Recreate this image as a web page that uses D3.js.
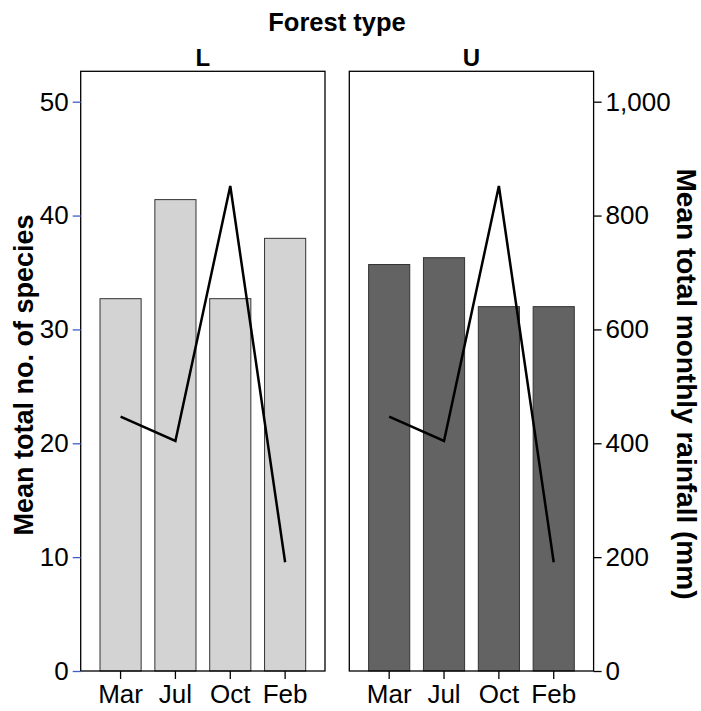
<!DOCTYPE html>
<html>
<head>
<meta charset="utf-8">
<script src="https://cdn.jsdelivr.net/npm/d3@7"></script>
<style>
  html, body { margin: 0; padding: 0; background: #fff; }
  svg { display: block; font-family: "Liberation Sans", Arial, sans-serif; }
</style>
</head>
<body>
<div id="chart"></div>
<script>
// Values.
const months = ['Mar', 'Jul', 'Oct', 'Feb'];
const forestTypes = ['L', 'U'];
const speciesL = [32.7, 41.4, 32.7, 38.0];
const speciesU = [35.7, 36.3, 32.0, 32.0];
const rainfall = [447, 404, 852, 191];
const speciesTicks = [0, 10, 20, 30, 40, 50];
const rainTicks = [0, 200, 400, 600, 800, 1000];

(function(){
  const width = 701, height = 711;
  const svg = d3.select('#chart').append('svg')
    .attr('width', width).attr('height', height);

  // panel geometry
  const top = 71.3, bottom = 671;
  const panelW = 244.3, gap = 24.3, left0 = 80.7;
  const panelX = forestTypes.map((d, i) => left0 + i * (panelW + gap));
  const fontFam = '"Liberation Sans", Arial, sans-serif';

  const y = d3.scaleLinear().domain([0, 52.67]).range([bottom, top]);
  // rainfall shares the same pixels: 1000 mm sits level with 50 species
  const yRain = d3.scaleLinear().domain([0, 52.67 * 20]).range([bottom, top]);

  const x = d3.scaleBand().domain(months).range([0, panelW])
    .paddingInner(0.25).paddingOuter(0.352);

  const fills = {L: '#d3d3d3', U: '#636363'};
  const bars = {L: speciesL, U: speciesU};

  forestTypes.forEach((ft, i) => {
    const g = svg.append('g').attr('transform', `translate(${panelX[i]},0)`);
    const rows = months.map((m, j) => ({month: m, value: bars[ft][j], rain: rainfall[j]}));

    g.selectAll('rect.bar').data(rows).join('rect')
      .attr('class', 'bar')
      .attr('x', d => x(d.month))
      .attr('y', d => y(d.value))
      .attr('width', x.bandwidth())
      .attr('height', d => bottom - y(d.value))
      .attr('fill', fills[ft])
      .attr('stroke', '#333')
      .attr('stroke-width', 1);

    const line = d3.line()
      .x(d => x(d.month) + x.bandwidth() / 2)
      .y(d => yRain(d.rain));
    g.append('path').datum(rows)
      .attr('d', line)
      .attr('fill', 'none')
      .attr('stroke', '#000')
      .attr('stroke-width', 2.5)
      .attr('stroke-linejoin', 'miter');

    // panel frame
    g.append('rect')
      .attr('x', 0).attr('y', top)
      .attr('width', panelW).attr('height', bottom - top)
      .attr('fill', 'none').attr('stroke', '#000').attr('stroke-width', 1.3);

    // x axis
    const xAxis = g.append('g').attr('transform', `translate(0,${bottom})`)
      .call(d3.axisBottom(x).tickSize(8).tickPadding(6));
    xAxis.select('.domain').remove();
    xAxis.selectAll('line').attr('stroke', '#000').attr('stroke-width', 1.3);
    xAxis.selectAll('text').attr('font-size', 26).attr('fill', '#000')
      .attr('font-family', fontFam);

    // strip label
    g.append('text')
      .attr('x', panelW / 2).attr('y', 65.5)
      .attr('text-anchor', 'middle')
      .attr('font-weight', 'bold').attr('font-size', 24)
      .text(ft);
  });

  // left species axis
  const yAxis = svg.append('g').attr('transform', `translate(${panelX[0]},0)`)
    .call(d3.axisLeft(y).tickValues(speciesTicks).tickSize(8).tickPadding(4));
  yAxis.select('.domain').remove();
  yAxis.selectAll('line').attr('stroke', '#3f5fc4').attr('stroke-width', 1.3);
  yAxis.selectAll('text').attr('font-size', 26).attr('fill', '#000')
    .attr('font-family', fontFam);

  // right rainfall axis
  const rAxis = svg.append('g').attr('transform', `translate(${panelX[1] + panelW},0)`)
    .call(d3.axisRight(yRain).tickValues(rainTicks).tickFormat(d3.format(',')).tickSize(8).tickPadding(4));
  rAxis.select('.domain').remove();
  rAxis.selectAll('line').attr('stroke', '#000').attr('stroke-width', 1.3);
  rAxis.selectAll('text').attr('font-size', 26).attr('fill', '#000')
    .attr('font-family', fontFam);

  // titles
  svg.append('text')
    .attr('x', 337).attr('y', 31)
    .attr('text-anchor', 'middle')
    .attr('font-weight', 'bold').attr('font-size', 25.5)
    .text('Forest type');

  svg.append('text')
    .attr('transform', 'translate(33,375) rotate(-90)')
    .attr('text-anchor', 'middle')
    .attr('font-weight', 'bold').attr('font-size', 27)
    .text('Mean total no. of species');

  svg.append('text')
    .attr('transform', 'translate(677,384) rotate(90)')
    .attr('text-anchor', 'middle')
    .attr('font-weight', 'bold').attr('font-size', 28)
    .text('Mean total monthly rainfall (mm)');
})();
</script>
</body>
</html>
